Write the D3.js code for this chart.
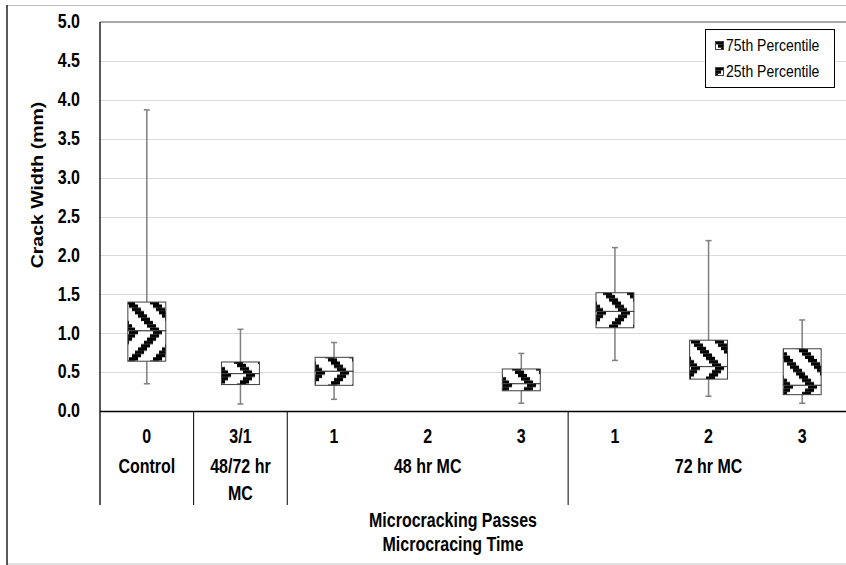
<!DOCTYPE html>
<html><head><meta charset="utf-8">
<script src="https://cdn.jsdelivr.net/npm/d3@7/dist/d3.min.js"></script>
<style>
html,body{margin:0;padding:0;background:#fff;}
svg{display:block;font-family:"Liberation Sans",Arial,sans-serif;}
</style></head>
<body>
<svg id="chart" width="846" height="565"></svg>
<script>
// ---- data ----
const passLabels = ["0","3/1","1","2","3","1","2","3"];
const groupLabels = [["Control"],["48/72 hr","MC"],["48 hr MC"],["72 hr MC"]];
const groupStart = [0,1,2,5];
const groupEnd = [1,2,5,8];
const whiskerMax = [3.87, 1.05, 0.88, null, 0.74, 2.10, 2.19, 1.17];
const q3 =         [1.40, 0.63, 0.69, null, 0.54, 1.52, 0.91, 0.80];
const median =     [1.03, 0.48, 0.51, null, 0.35, 1.28, 0.57, 0.33];
const q1 =         [0.64, 0.34, 0.33, null, 0.26, 1.07, 0.41, 0.21];
const whiskerMin = [0.35, 0.09, 0.15, null, 0.10, 0.65, 0.19, 0.10];
const yTicks = [0,0.5,1,1.5,2,2.5,3,3.5,4,4.5,5];
const legendLabels = ["75th Percentile","25th Percentile"];
const yTitle = "Crack Width (mm)";
const xTitles = ["Microcracking Passes","Microcracing Time"];

// ---- layout ----
const svg = d3.select("#chart");
const pL = 100, pR = 849, pT = 22, pB = 411;
const SY = 1.22; // vertical stretch of glyphs
const x = d3.scaleBand().domain(d3.range(passLabels.length)).range([pL, pR]).padding(0);
const y = d3.scaleLinear().domain([0,5]).range([pB, pT]);
const boxW = x.bandwidth()*0.405;

function txt(g, tx, ty, s, opts){
  opts = opts || {};
  return g.append("text")
    .attr("transform",`translate(${tx},${ty}) scale(1,${SY})`)
    .attr("text-anchor",opts.anchor||"middle")
    .attr("font-size",opts.size||16)
    .attr("font-weight",opts.weight||"bold")
    .attr("fill","#000")
    .text(s);
}

// outer frame
svg.append("line").attr("x1",7).attr("x2",846).attr("y1",5.5).attr("y2",5.5).attr("stroke","#bfbfbf").attr("stroke-width",1);
svg.append("line").attr("x1",7).attr("x2",846).attr("y1",564).attr("y2",564).attr("stroke","#d9d9d9").attr("stroke-width",1.5);
svg.append("line").attr("x1",7).attr("x2",7).attr("y1",5).attr("y2",565).attr("stroke","#222").attr("stroke-width",1.5);

// patterns
const defs = svg.append("defs");
const cw = 3, ch = 3.3, n = 8;
function makePattern(id, dir, tx, ty){
  const p = defs.append("pattern").attr("id",id).attr("patternUnits","userSpaceOnUse")
    .attr("width",cw*n).attr("height",ch*n)
    .attr("patternTransform",`translate(${tx},${ty})`);
  p.append("rect").attr("width",cw*n).attr("height",ch*n).attr("fill","#fff");
  const cells = [];
  for(let r=0;r<n;r++) for(let k=0;k<3;k++){
    const c = ((dir>0 ? r+k : -r+k) % n + n) % n;
    cells.push([c,r]);
  }
  p.selectAll("rect.c").data(cells).enter().append("rect").attr("class","c")
    .attr("x",d=>d[0]*cw).attr("y",d=>d[1]*ch).attr("width",cw+0.05).attr("height",ch+0.05)
    .attr("fill","#000");
}

// gridlines
svg.append("g").selectAll("line").data(yTicks.filter(t=>t>0 && t<5)).enter().append("line")
  .attr("x1",pL).attr("x2",846).attr("y1",d=>Math.round(y(d))+0.5).attr("y2",d=>Math.round(y(d))+0.5)
  .attr("stroke","#d9d9d9").attr("stroke-width",1.2);
svg.append("line").attr("x1",pL).attr("x2",846).attr("y1",y(5)).attr("y2",y(5)).attr("stroke","#8c8c8c").attr("stroke-width",1.5);

// y axis labels
const yAxis = d3.axisLeft(y).tickValues(yTicks).tickFormat(d3.format(".1f")).tickSize(0).tickPadding(20);
const ya = svg.append("g").attr("transform",`translate(${pL},0)`).call(yAxis);
ya.select(".domain").remove();
ya.selectAll("text").attr("font-size",16).attr("font-weight","bold").attr("fill","#000")
  .attr("font-family","'Liberation Sans',Arial,sans-serif")
  .attr("transform",`scale(1,${SY})`).attr("dy","0.3em");

svg.append("text").attr("transform",`translate(43,185) rotate(-90) scale(${SY},1)`)
  .attr("text-anchor","middle").attr("font-size",16).attr("font-weight","bold").text(yTitle);

// boxes
const idx = d3.range(passLabels.length).filter(i=>q3[i]!=null);
const boxes = svg.append("g");
idx.forEach(i=>{
  const cx = x(i)+x.bandwidth()/2;
  const bx = cx - boxW/2;
  makePattern("up"+i, 1, Math.round(bx)+1, y(median[i]));
  makePattern("dn"+i, -1, Math.round(bx)+1, y(median[i]));
  const g = boxes.append("g");
  g.append("line").attr("x1",cx).attr("x2",cx).attr("y1",y(whiskerMax[i])).attr("y2",y(q3[i])).attr("stroke","#7f7f7f").attr("stroke-width",1.5);
  g.append("line").attr("x1",cx).attr("x2",cx).attr("y1",y(q1[i])).attr("y2",y(whiskerMin[i])).attr("stroke","#7f7f7f").attr("stroke-width",1.5);
  [whiskerMax[i], whiskerMin[i]].forEach(v=>{
    g.append("line").attr("x1",cx-3).attr("x2",cx+3).attr("y1",y(v)).attr("y2",y(v)).attr("stroke","#7f7f7f").attr("stroke-width",1.5);
  });
  g.append("rect").attr("x",bx).attr("y",y(q3[i])).attr("width",boxW).attr("height",y(median[i])-y(q3[i]))
    .attr("fill",`url(#up${i})`).attr("stroke","#404040").attr("stroke-width",1);
  g.append("rect").attr("x",bx).attr("y",y(median[i])).attr("width",boxW).attr("height",y(q1[i])-y(median[i]))
    .attr("fill",`url(#dn${i})`).attr("stroke","#404040").attr("stroke-width",1);
});

// x axis and category area
const axBottom = 505;
svg.append("line").attr("x1",pL).attr("x2",846).attr("y1",pB+0.5).attr("y2",pB+0.5).attr("stroke","#000").attr("stroke-width",1.3);
svg.append("line").attr("x1",pL).attr("x2",pL).attr("y1",pT).attr("y2",axBottom).attr("stroke","#000").attr("stroke-width",1.3);
const seps = groupEnd.filter(e=>e<passLabels.length);
svg.append("g").selectAll("line").data(seps).enter().append("line")
  .attr("x1",d=>x(d)).attr("x2",d=>x(d)).attr("y1",pB).attr("y2",axBottom)
  .attr("stroke","#000").attr("stroke-width",1);

const lab = svg.append("g");
passLabels.forEach((d,i)=>txt(lab, x(i)+x.bandwidth()/2, 443, d));

groupLabels.forEach((lines,gi)=>{
  const cx = (x(groupStart[gi]) + (groupEnd[gi]<passLabels.length ? x(groupEnd[gi]) : pR))/2;
  lines.forEach((t,li)=>txt(lab, cx, 473+li*27, t));
});
xTitles.forEach((t,i)=>txt(lab, 453, 527+i*24, t));

// legend
const lg = svg.append("g");
lg.append("rect").attr("x",705.5).attr("y",29.5).attr("width",129).attr("height",58).attr("fill","#fff").attr("stroke","#000").attr("stroke-width",1);
makePattern("lgup",1,715,41);
makePattern("lgdn",-1,715,67);
legendLabels.forEach((t,i)=>{
  lg.append("rect").attr("x",715.5).attr("y",41.5+i*26).attr("width",8).attr("height",8)
    .attr("fill",i===0?"url(#lgup)":"url(#lgdn)").attr("stroke","#404040").attr("stroke-width",1);
  txt(lg, 726, 51+i*26, t, {anchor:"start", size:14, weight:"normal"});
});
</script>
</body></html>
